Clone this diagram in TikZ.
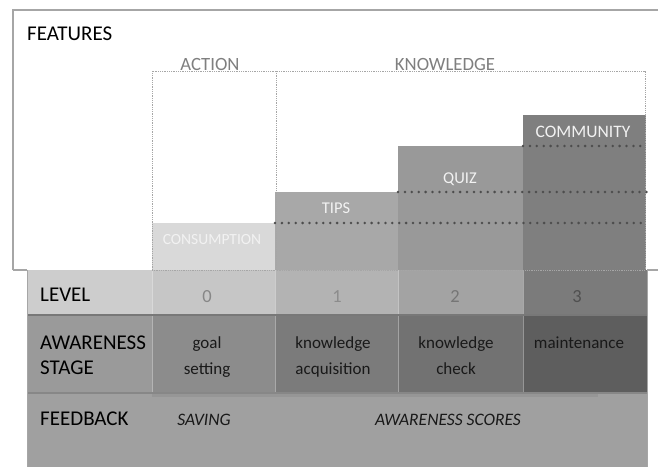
\documentclass[tikz,border=0pt]{standalone}
\usepackage{fontspec}
\setmainfont{Carlito}
\definecolor{framegray}{HTML}{A6A6A6}
\definecolor{labelgray}{HTML}{7F7F7F}
\definecolor{dotgray}{HTML}{4D4D4D}
\definecolor{levelbg}{HTML}{CDCDCD}
\definecolor{awarebg}{HTML}{9A9A9A}
\definecolor{feedbg}{HTML}{A0A0A0}
\definecolor{colA}{HTML}{D9D9D9}
\definecolor{colB}{HTML}{A8A8A8}
\definecolor{colC}{HTML}{999999}
\definecolor{colD}{HTML}{7F7F7F}
\begin{document}
\begin{tikzpicture}[x=1pt,y=-1pt,
  rowlabel/.style={inner sep=0pt, anchor=base west, font=\fontsize{21}{24}\selectfont, text=black},
  grouplabel/.style={inner sep=0pt, anchor=base, font=\fontsize{18.7}{22}\selectfont, text=labelgray},
  featlabel/.style={inner sep=0pt, anchor=base, font=\fontsize{16.5}{20}\selectfont, text=white!95!black},
  digit/.style={inner sep=0pt, anchor=base, font=\fontsize{18.5}{22}\selectfont},
  stagetext/.style={inner sep=0pt, anchor=base, font=\fontsize{17}{21}\selectfont, text=black!90},
  feedtext/.style={inner sep=0pt, anchor=base, font=\fontsize{17.5}{21}\selectfont\itshape, text=black!90},
  groupframe/.style={draw=framegray, line width=0.8pt, dash pattern=on 0.9pt off 0.9pt},
  stepline/.style={draw=dotgray, line width=2.8pt, line cap=round, dash pattern=on 0pt off 6.9pt},
  cellsep/.style={draw=white, draw opacity=0.35, line width=0.8pt}
]
\useasboundingbox (0,0) rectangle (658,466);

% ---- lower table: row backgrounds ----
\fill[levelbg] (27,270) rectangle (647,315);
\fill[awarebg] (27,315) rectangle (647,393);
\fill[feedbg]  (27,393) rectangle (647,470);

% level row cells
\fill[fill={rgb,255:red,198;green,198;blue,198}] (152,270) rectangle (275,315);
\fill[fill={rgb,255:red,179;green,179;blue,179}] (275,270) rectangle (398,315);
\fill[fill={rgb,255:red,163;green,163;blue,163}] (398,270) rectangle (523,315);
\fill[fill={rgb,255:red,123;green,123;blue,123}] (523,270) rectangle (647,315);

% awareness row cells
\fill[fill={rgb,255:red,140;green,140;blue,140}] (152,315) rectangle (275,393);
\fill[fill={rgb,255:red,123;green,123;blue,123}] (275,315) rectangle (398,393);
\fill[fill={rgb,255:red,114;green,114;blue,114}] (398,315) rectangle (523,393);
\fill[fill={rgb,255:red,94;green,94;blue,94}]   (523,315) rectangle (647,393);

% soft shadow below the stage cells
\fill[black, opacity=0.06] (152,393) rectangle (598,397);

% cell separators
\foreach \cx in {152,275,398,523}{
  \draw[cellsep] (\cx,270) -- (\cx,393);
}

% row rules and table border
\draw[draw={rgb,255:red,120;green,120;blue,120}, line width=1.6pt] (27,315) -- (647,315);
\draw[draw={rgb,255:red,135;green,135;blue,135}, line width=1.4pt] (27,393) -- (647,393);
\draw[framegray, line width=0.9pt] (27.5,270) -- (27.5,470);
\draw[framegray, line width=0.9pt] (647,270) -- (647,470);

% ---- feature steps ----
\fill[colA] (152,223) rectangle (275,270);
\fill[colB] (275,192) rectangle (398,270);
\fill[colC] (398,146) rectangle (523,270);
\fill[colD] (523,115) rectangle (646,270);

% ---- features frame ----
\draw[framegray, line width=1.2pt] (13,270) -- (13,10) -- (662,10);
\draw[framegray, line width=1.2pt] (13,270) -- (27,270);
\draw[framegray, line width=1.2pt] (647,270) -- (662,270);

% ---- group frames ----
\draw[groupframe] (152,270) -- (152,71) -- (276,71);
\draw[groupframe] (276,71) rectangle (645,270);
\draw[groupframe] (152,270) -- (276,270);

% ---- dotted step lines ----
\coordinate (s1a) at (275,223); \coordinate (s1b) at (647,223);
\coordinate (s2a) at (398,192); \coordinate (s2b) at (647,192);
\coordinate (s3a) at (523,146); \coordinate (s3b) at (647,146);
\draw[stepline] (s1a) -- (s1b);
\draw[stepline] (s2a) -- (s2b);
\draw[stepline] (s3a) -- (s3b);

% ---- texts ----
\node[rowlabel] (features) at (27,40) {FEATURES};
\node[grouplabel, fill=white, inner xsep=1pt] (action) at (210,70) {ACTION};
\node[grouplabel, fill=white, inner xsep=1pt] (knowledge) at (445,70) {KNOWLEDGE};

\node[featlabel, font=\fontsize{15.5}{19}\selectfont] (consumption) at (212,244) {CONSUMPTION};
\node[featlabel] (tips) at (336,213.5) {TIPS};
\node[featlabel] (quiz) at (460,183.5) {QUIZ};
\node[featlabel, font=\fontsize{17.5}{21}\selectfont] (community) at (583,137.5) {COMMUNITY};

\node[rowlabel] (level) at (40,301.5) {LEVEL};
\node[digit, text={rgb,255:red,135;green,135;blue,135}] (l0) at (207,302) {0};
\node[digit, text={rgb,255:red,140;green,140;blue,140}] (l1) at (337,302) {1};
\node[digit, text={rgb,255:red,118;green,118;blue,118}] (l2) at (455,302) {2};
\node[digit, text={rgb,255:red,80;green,80;blue,80}] (l3) at (577,302) {3};

\node[rowlabel] (aw1) at (40,349.5) {AWARENESS};
\node[rowlabel] (aw2) at (40,374.5) {STAGE};
\node[stagetext] (g1) at (207,348.5) {goal};
\node[stagetext] (g2) at (207,374) {setting};
\node[stagetext] (k1) at (333,348.5) {knowledge};
\node[stagetext] (k2) at (333,374) {acquisition};
\node[stagetext] (c1) at (456,348.5) {knowledge};
\node[stagetext] (c2) at (456,374) {check};
\node[stagetext] (m1) at (579,348.5) {maintenance};

\node[rowlabel] (feedback) at (40,425.5) {FEEDBACK};
\node[feedtext] (saving) at (204,425) {SAVING};
\node[feedtext] (scores) at (448,425) {AWARENESS SCORES};
\end{tikzpicture}
\end{document}
